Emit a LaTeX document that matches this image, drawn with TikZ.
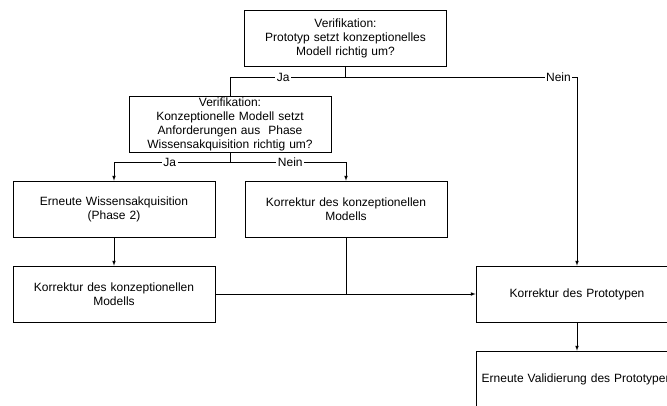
\documentclass[tikz,border=0pt]{standalone}
\usepackage{fontspec}
\setmainfont{Liberation Sans}
\usetikzlibrary{calc, arrows.meta, positioning}

\begin{document}
\begin{tikzpicture}[auto, >=latex, x=1pt, y=-1pt, line width=0.7pt, font=\fontsize{12}{14}\selectfont]
	\tikzstyle{box} = [draw=black, rectangle, minimum width=202pt, minimum height=56pt, text width=198pt, align=center, inner sep=0pt]
	\tikzstyle{lbl} = [auto=false, fill=white, inner sep=1.5pt]
	\useasboundingbox (0,0) rectangle (667,405);
	
	\node[box]	at (345.5, 38)	(q0)	{Verifikation:\\Prototyp setzt konzeptionelles\\Modell richtig um?};
	\node[box]	at (230, 124)	(q1)	{Verifikation:\\Konzeptionelle Modell setzt\\Anforderungen aus\ \ Phase\\Wissensakquisition richtig um?};
	\node[box]	at (114, 209)	(q2)	{Erneute Wissensakquisition\\(Phase 2)};
	\node[box]	at (346, 209)	(q3)	{Korrektur des konzeptionellen\\Modells};
	\node[box]	at (114, 294)	(q4)	{Korrektur des konzeptionellen\\Modells};
	\node[box]	at (577, 294)	(q5)	{Korrektur des Prototypen};
	\node[box]	at (577, 379)	(q6)	{Erneute Validierung des Prototypen};
	\coordinate (c0) at (345.5, 77);
	\coordinate (c1) at (230, 162);
	
	\draw (q0) -- (c0);
	\draw (c0) -| node[lbl, pos=0.27] {Ja} (q1);
	\draw[->] (c0) -| node[lbl, pos=0.46] {Nein} (q5);
	\draw (q1) -- (c1);
	\draw[->] (c1) -| node[lbl, pos=0.26] {Ja} (q2);
	\draw[->] (c1) -| node[lbl, pos=0.26] {Nein} (q3);
	\draw[->] (q2) -- (q4);
	\draw[->] (q4) -- (q5);
	\draw (q3) -- (q3 |- q4);
	\draw[->] (q5) -- (q6);
\end{tikzpicture}
\end{document}
